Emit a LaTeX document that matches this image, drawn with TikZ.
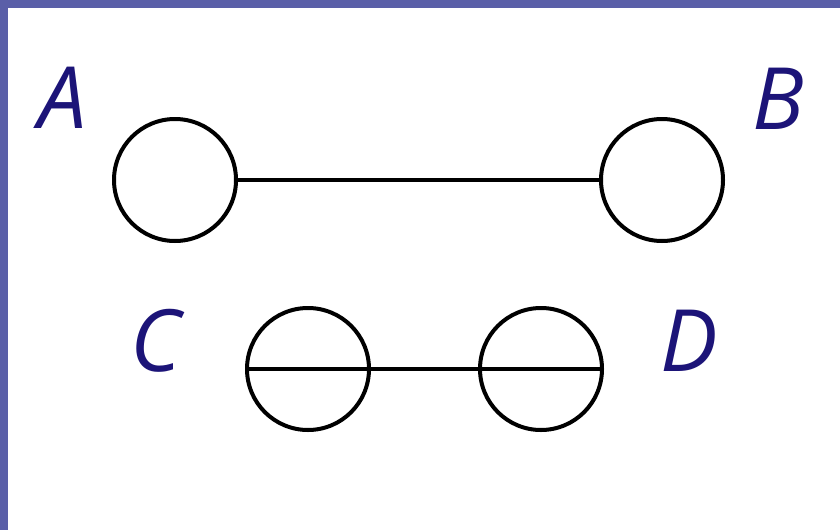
\documentclass[tikz,border=0pt]{standalone}
\usepackage{fontspec}
\setmainfont{Open Sans}
\usepackage{tikz}
\usetikzlibrary{positioning}
\usepackage{xcolor}
\definecolor{mframe}{HTML}{5A5FA8}
\definecolor{mnavy}{HTML}{1C1478}
\tikzstyle{ring}=[circle, draw=black, minimum size=122pt, line width=4pt, inner sep=0pt]
\tikzstyle{l1}=[line width=4pt]
\tikzstyle{lbl}=[font=\fontsize{86}{86}\selectfont\itshape, text=mnavy, inner sep=0pt]

\begin{document}
\begin{tikzpicture}[x=1pt, y=-1pt]
    % frame
    \fill[white] (0,0) rectangle (840,530);
    \useasboundingbox (0,0) rectangle (840,530);
    \fill[mframe] (0,0) rectangle (840,8);
    \fill[mframe] (0,0) rectangle (8,530);

    \node (a) [ring] at (175,180) {};
    \node (b) [ring] at (662,180) {};
    \draw[l1] (a) -- (b);

    \node (c) [ring] at (308,369) {};
    \node (d) [ring] at (541,369) {};
    \draw[l1] (c.west) -- (d.east);

    \node (la) [lbl] at (63,98) {A};
    \node (lb) [lbl] at (778,99) {B};
    \node (lc) [lbl] at (156,341) {C};
    \node (ld) [lbl] at (689,341) {D};
\end{tikzpicture}
\end{document}
